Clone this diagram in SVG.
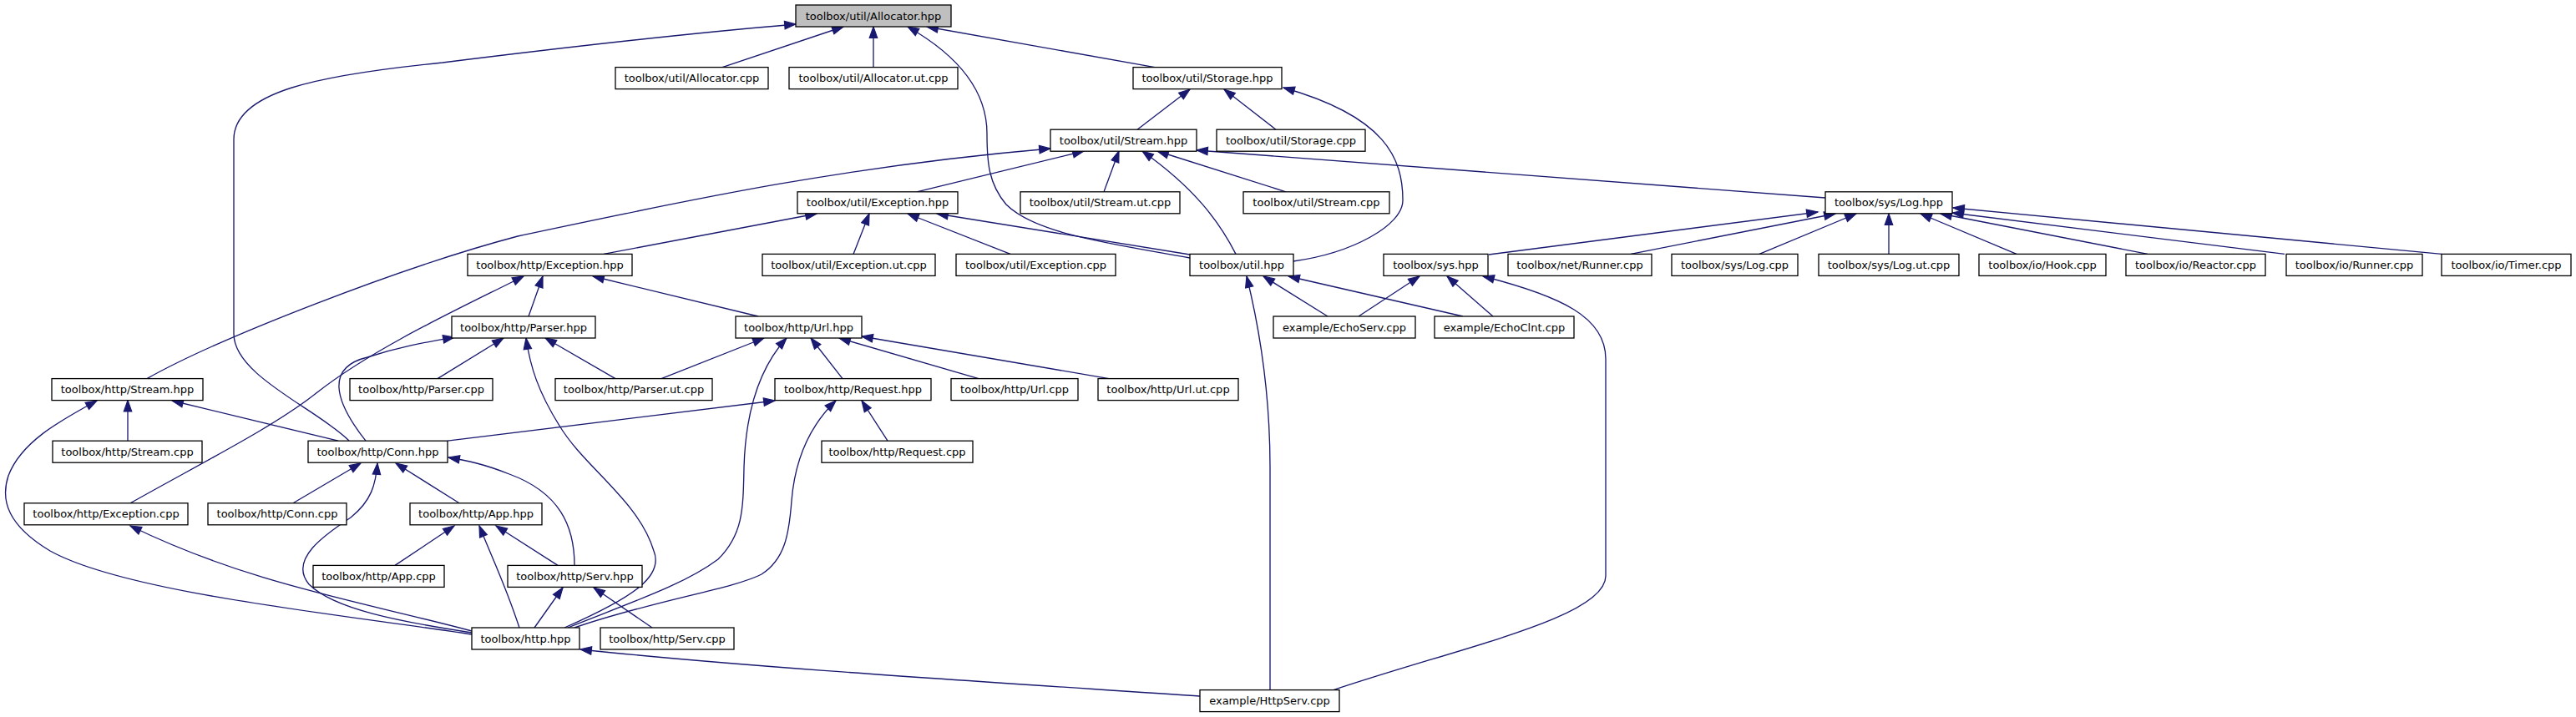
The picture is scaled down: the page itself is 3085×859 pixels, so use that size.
<svg xmlns="http://www.w3.org/2000/svg" width="3085" height="859" viewBox="0 0 3085 859">
<defs>
<style>
.n rect{fill:#ffffff;stroke:#000000;stroke-width:1.3}
.n.root rect{fill:#bfbfbf}
.n text{font-family:"DejaVu Sans","Liberation Sans",sans-serif;font-size:13px;text-anchor:middle;fill:#000000}
.e path{fill:none;stroke:#191970;stroke-width:1.33;marker-end:url(#arr)}
</style>
<marker id="arr" markerUnits="userSpaceOnUse" markerWidth="16" markerHeight="12" refX="13.3" refY="5" orient="auto" overflow="visible">
<path d="M0,0.3 L13.3,5 L0,9.7 Z" fill="#191970" stroke="#191970" stroke-width="1.2"/>
</marker>
</defs>
<rect width="3085" height="859" fill="#ffffff"/>
<g id="edges" class="e">
<!-- into Allocator.hpp -->
<path d="M865,80.6 L1010,32"/>
<path d="M1046,80.6 L1046,32"/>
<path d="M1383,80.6 L1110,32"/>
<path d="M1425,309 C1330,292 1240,280 1205,245 C1184,220 1182,195 1182,160 C1182,110 1150,68 1087,32"/>
<path d="M418,528 C380,490 280,450 280,400 L280,167 C280,110 380,90 530,75 C650,60 800,42 953,29"/>
<!-- into Storage.hpp -->
<path d="M1362,155.2 L1425,107"/>
<path d="M1528,155.2 L1466,107"/>
<path d="M1549,313 C1620,303 1680,270 1680,240 C1680,190 1660,140 1537,105"/>
<!-- into util/Stream.hpp -->
<path d="M176,453.6 C260,406 480,320 620,283 C800,245 1000,200 1258,178"/>
<path d="M1098,229.8 L1298,181"/>
<path d="M1322,229.8 L1340,181"/>
<path d="M1540,229.8 L1386,181"/>
<path d="M1480,304.4 C1460,265 1430,225 1368,181"/>
<path d="M2186,237 L1433,180"/>
<!-- into util/Exception.hpp -->
<path d="M723,304.4 L978,256"/>
<path d="M1022,304.4 L1041,256"/>
<path d="M1210,304.4 L1087,256"/>
<path d="M1425,305 L1122,256"/>
<!-- into sys/Log.hpp -->
<path d="M1783,305 L2177,254"/>
<path d="M1953,304.4 L2198,256"/>
<path d="M2107,304.4 L2223,256"/>
<path d="M2262,304.4 L2262,256"/>
<path d="M2415,304.4 L2300,256"/>
<path d="M2572,304.4 L2324,256"/>
<path d="M2736,304.4 L2338,255"/>
<path d="M2924,304.4 L2339,249"/>
<!-- into http/Exception.hpp -->
<path d="M633,379 L650,331"/>
<path d="M908,379 L710,331"/>
<path d="M156,602.8 C250,550 330,510 380,470 C450,415 560,365 627,331"/>
<!-- into http/Parser.hpp -->
<path d="M524,453.6 L603,405"/>
<path d="M737,453.6 L653,405"/>
<path d="M438,528.2 C400,480 390,440 440,428 C480,415 510,410 544,404"/>
<path d="M676,752 C760,715 795,690 783,660 C765,600 700,560 670,510 C645,470 635,440 630,405"/>
<!-- into http/Url.hpp -->
<path d="M792,453.6 L915,405"/>
<path d="M1009,453.6 L971,405"/>
<path d="M1172,453.6 L1005,405"/>
<path d="M1328,453.6 L1032,403"/>
<path d="M680,752 C760,720 820,700 860,670 C890,640 890,610 891,560 C893,490 910,440 942,405"/>
<!-- into http/Stream.hpp -->
<path d="M153,528.2 L153,479.6"/>
<path d="M405,528.2 L206,480"/>
<path d="M565,760 C400,735 150,710 60,660 C10,630 0,600 10,570 C25,530 70,505 116,480"/>
<!-- into http/Request.hpp -->
<path d="M536,528.2 L928,480"/>
<path d="M1063,528.2 L1032,480"/>
<path d="M688,752 C780,720 880,705 912,688 C940,670 945,640 948,600 C952,550 970,510 1001,480"/>
<!-- into http/Conn.hpp -->
<path d="M351,602.8 L432,555"/>
<path d="M550,602.8 L474,555"/>
<path d="M565,758 C480,745 400,730 370,700 C345,670 390,640 420,620 C445,600 450,580 452,555"/>
<path d="M688,677.4 C688,630 670,590 610,568 C580,556 560,552 537,548"/>
<!-- into http/App.hpp -->
<path d="M473,677.4 L544,630"/>
<path d="M622,752 C605,700 590,670 574,630"/>
<path d="M668,677.4 L594,630"/>
<!-- into http/Serv.hpp -->
<path d="M640,752 L674,704"/>
<path d="M781,752 L711,704"/>
<!-- into http/Exception.cpp -->
<path d="M565,756 C430,720 300,700 156,630"/>
<!-- into http.hpp -->
<path d="M1437,834 C1200,818 900,800 695,778"/>
<!-- into util.hpp -->
<path d="M1521,826.6 L1521,560 C1521,480 1510,400 1493,331"/>
<path d="M1590,379 L1513,331"/>
<path d="M1752,379 L1543,331"/>
<!-- into sys.hpp -->
<path d="M1597,826.6 C1750,775 1923,740 1923,690 L1923,430 C1923,380 1870,355 1776,331"/>
<path d="M1627,379 L1700,331"/>
<path d="M1788,379 L1733,331"/>
</g>
<g id="n_allocator_hpp" class="n root"><rect x="953" y="6" width="186" height="26"/><text x="1046" y="23.5">toolbox/util/Allocator.hpp</text></g>
<g id="n_allocator_cpp" class="n"><rect x="737" y="80.6" width="183" height="26"/><text x="828.5" y="98.1">toolbox/util/Allocator.cpp</text></g>
<g id="n_allocator_ut_cpp" class="n"><rect x="945" y="80.6" width="202" height="26"/><text x="1046" y="98.1">toolbox/util/Allocator.ut.cpp</text></g>
<g id="n_storage_hpp" class="n"><rect x="1357" y="80.6" width="178" height="26"/><text x="1446" y="98.1">toolbox/util/Storage.hpp</text></g>
<g id="n_util_stream_hpp" class="n"><rect x="1258" y="155.2" width="175" height="26"/><text x="1345.5" y="172.7">toolbox/util/Stream.hpp</text></g>
<g id="n_storage_cpp" class="n"><rect x="1457" y="155.2" width="178" height="26"/><text x="1546" y="172.7">toolbox/util/Storage.cpp</text></g>
<g id="n_util_exception_hpp" class="n"><rect x="955" y="229.8" width="192" height="26"/><text x="1051" y="247.3">toolbox/util/Exception.hpp</text></g>
<g id="n_stream_ut_cpp" class="n"><rect x="1222" y="229.8" width="191" height="26"/><text x="1317.5" y="247.3">toolbox/util/Stream.ut.cpp</text></g>
<g id="n_util_stream_cpp" class="n"><rect x="1489" y="229.8" width="175" height="26"/><text x="1576.5" y="247.3">toolbox/util/Stream.cpp</text></g>
<g id="n_log_hpp" class="n"><rect x="2186" y="229.8" width="152" height="26"/><text x="2262" y="247.3">toolbox/sys/Log.hpp</text></g>
<g id="n_http_exception_hpp" class="n"><rect x="560" y="304.4" width="197" height="26"/><text x="658.5" y="321.9">toolbox/http/Exception.hpp</text></g>
<g id="n_exception_ut_cpp" class="n"><rect x="913" y="304.4" width="207" height="26"/><text x="1016.5" y="321.9">toolbox/util/Exception.ut.cpp</text></g>
<g id="n_util_exception_cpp" class="n"><rect x="1145" y="304.4" width="191" height="26"/><text x="1240.5" y="321.9">toolbox/util/Exception.cpp</text></g>
<g id="n_util_hpp" class="n"><rect x="1425" y="304.4" width="124" height="26"/><text x="1487" y="321.9">toolbox/util.hpp</text></g>
<g id="n_sys_hpp" class="n"><rect x="1657" y="304.4" width="125" height="26"/><text x="1719.5" y="321.9">toolbox/sys.hpp</text></g>
<g id="n_net_runner_cpp" class="n"><rect x="1806" y="304.4" width="172" height="26"/><text x="1892" y="321.9">toolbox/net/Runner.cpp</text></g>
<g id="n_log_cpp" class="n"><rect x="2002" y="304.4" width="151" height="26"/><text x="2077.5" y="321.9">toolbox/sys/Log.cpp</text></g>
<g id="n_log_ut_cpp" class="n"><rect x="2178" y="304.4" width="168" height="26"/><text x="2262" y="321.9">toolbox/sys/Log.ut.cpp</text></g>
<g id="n_hook_cpp" class="n"><rect x="2370" y="304.4" width="152" height="26"/><text x="2446" y="321.9">toolbox/io/Hook.cpp</text></g>
<g id="n_reactor_cpp" class="n"><rect x="2546" y="304.4" width="167" height="26"/><text x="2629.5" y="321.9">toolbox/io/Reactor.cpp</text></g>
<g id="n_io_runner_cpp" class="n"><rect x="2738" y="304.4" width="163" height="26"/><text x="2819.5" y="321.9">toolbox/io/Runner.cpp</text></g>
<g id="n_timer_cpp" class="n"><rect x="2924" y="304.4" width="155" height="26"/><text x="3001.5" y="321.9">toolbox/io/Timer.cpp</text></g>
<g id="n_parser_hpp" class="n"><rect x="541" y="379" width="172" height="26"/><text x="627" y="396.5">toolbox/http/Parser.hpp</text></g>
<g id="n_url_hpp" class="n"><rect x="881" y="379" width="151" height="26"/><text x="956.5" y="396.5">toolbox/http/Url.hpp</text></g>
<g id="n_echoserv_cpp" class="n"><rect x="1525" y="379" width="170" height="26"/><text x="1610" y="396.5">example/EchoServ.cpp</text></g>
<g id="n_echoclnt_cpp" class="n"><rect x="1718" y="379" width="167" height="26"/><text x="1801.5" y="396.5">example/EchoClnt.cpp</text></g>
<g id="n_http_stream_hpp" class="n"><rect x="62" y="453.6" width="181" height="26"/><text x="152.5" y="471.1">toolbox/http/Stream.hpp</text></g>
<g id="n_parser_cpp" class="n"><rect x="419" y="453.6" width="171" height="26"/><text x="504.5" y="471.1">toolbox/http/Parser.cpp</text></g>
<g id="n_parser_ut_cpp" class="n"><rect x="665" y="453.6" width="188" height="26"/><text x="759" y="471.1">toolbox/http/Parser.ut.cpp</text></g>
<g id="n_request_hpp" class="n"><rect x="928" y="453.6" width="187" height="26"/><text x="1021.5" y="471.1">toolbox/http/Request.hpp</text></g>
<g id="n_url_cpp" class="n"><rect x="1139" y="453.6" width="152" height="26"/><text x="1215" y="471.1">toolbox/http/Url.cpp</text></g>
<g id="n_url_ut_cpp" class="n"><rect x="1315" y="453.6" width="168" height="26"/><text x="1399" y="471.1">toolbox/http/Url.ut.cpp</text></g>
<g id="n_http_stream_cpp" class="n"><rect x="63" y="528.2" width="179" height="26"/><text x="152.5" y="545.7">toolbox/http/Stream.cpp</text></g>
<g id="n_conn_hpp" class="n"><rect x="369" y="528.2" width="167" height="26"/><text x="452.5" y="545.7">toolbox/http/Conn.hpp</text></g>
<g id="n_request_cpp" class="n"><rect x="984" y="528.2" width="181" height="26"/><text x="1074.5" y="545.7">toolbox/http/Request.cpp</text></g>
<g id="n_http_exception_cpp" class="n"><rect x="29" y="602.8" width="196" height="26"/><text x="127" y="620.3">toolbox/http/Exception.cpp</text></g>
<g id="n_conn_cpp" class="n"><rect x="249" y="602.8" width="166" height="26"/><text x="332" y="620.3">toolbox/http/Conn.cpp</text></g>
<g id="n_app_hpp" class="n"><rect x="491" y="602.8" width="158" height="26"/><text x="570" y="620.3">toolbox/http/App.hpp</text></g>
<g id="n_app_cpp" class="n"><rect x="375" y="677.4" width="157" height="26"/><text x="453.5" y="694.9">toolbox/http/App.cpp</text></g>
<g id="n_serv_hpp" class="n"><rect x="608" y="677.4" width="161" height="26"/><text x="688.5" y="694.9">toolbox/http/Serv.hpp</text></g>
<g id="n_http_hpp" class="n"><rect x="565" y="752" width="129" height="26"/><text x="629.5" y="769.5">toolbox/http.hpp</text></g>
<g id="n_serv_cpp" class="n"><rect x="719" y="752" width="160" height="26"/><text x="799" y="769.5">toolbox/http/Serv.cpp</text></g>
<g id="n_httpserv_cpp" class="n"><rect x="1437" y="826.6" width="167" height="26"/><text x="1520.5" y="844.1">example/HttpServ.cpp</text></g>
</svg>
